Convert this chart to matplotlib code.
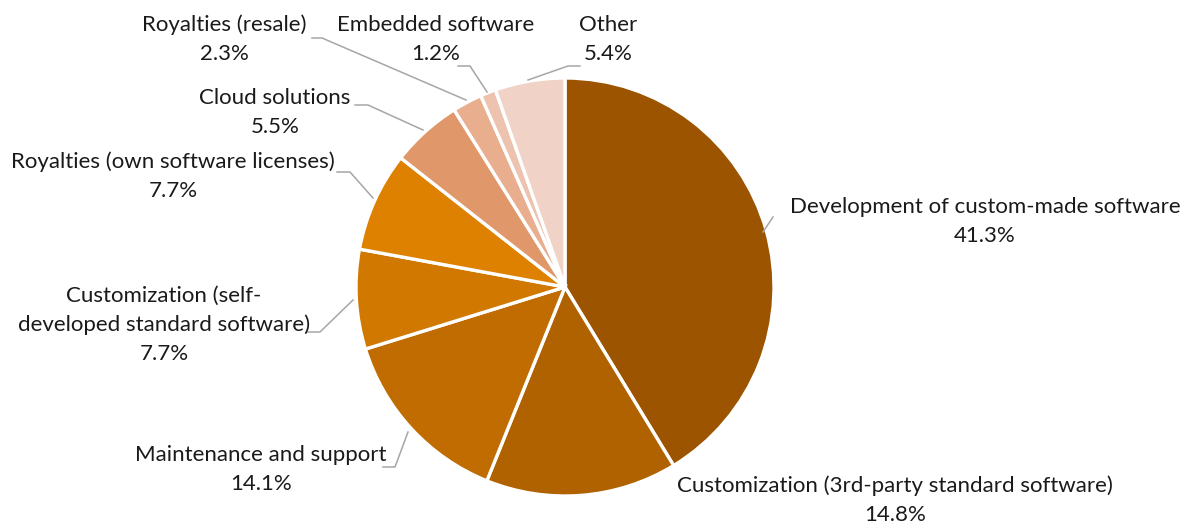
import matplotlib
matplotlib.use("Agg")
import matplotlib.pyplot as plt

categories = [
    "Development of custom-made software",
    "Customization (3rd-party standard software)",
    "Maintenance and support",
    "Customization (self-\ndeveloped standard software)",
    "Royalties (own software licenses)",
    "Cloud solutions",
    "Royalties (resale)",
    "Embedded software",
    "Other",
]
shares = [41.3, 14.8, 14.1, 7.7, 7.7, 5.5, 2.3, 1.2, 5.4]
colors = ["#9C5400", "#B06200", "#C06C00", "#D07800", "#DE8000",
          "#E0986A", "#E8AE8E", "#EDC2AE", "#F0D3C6"]

# label anchor (centre x, first line y) and leader polyline, in pixels
label_pos = [(985, 207), (895, 486), (261, 455), (164, 296), (173, 162),
             (275, 98), (224, 25), (436, 25), (608, 25)]
leaders = [
    [(763, 232), (773, 217)],
    None,
    [(383, 467), (395, 467), (408, 432)],
    [(308, 332), (320, 332), (353, 300)],
    [(337, 172), (350, 172), (373, 198)],
    [(355, 105), (368, 105), (423, 130)],
    [(312, 38), (322, 38), (466, 100)],
    [(458, 66), (470, 66), (487, 92)],
    [(580, 66), (568, 66), (528, 80)],
]

W, H = 1195, 524
fig = plt.figure(figsize=(W / 100, H / 100), dpi=100)
ax = fig.add_axes([0, 0, 1, 1])

# y grows downward here, so the pie starts at -90 and runs counterclockwise
# in data space, which reads as top-start and clockwise on screen
ax.pie(shares, colors=colors, startangle=-90, counterclock=True,
       center=(565, 287), radius=209,
       wedgeprops=dict(edgecolor="white", linewidth=2.4))
ax.set_xlim(0, W)
ax.set_ylim(H, 0)
ax.set_aspect("equal")
ax.axis("off")

font = dict(family="Lato", fontsize=16, color="#1a1a1a",
            ha="center", va="center")
line_gap = 29
for cat, val, (x, y), lead in zip(categories, shares, label_pos, leaders):
    lines = cat.split("\n") + [f"{val:.1f}%"]
    for i, ln in enumerate(lines):
        ax.text(x, y + i * line_gap, ln, **font)
    if lead:
        xs, ys = zip(*lead)
        ax.plot(xs, ys, color="#a6a6a6", linewidth=1.1)

fig.savefig("out.png", dpi=100)
